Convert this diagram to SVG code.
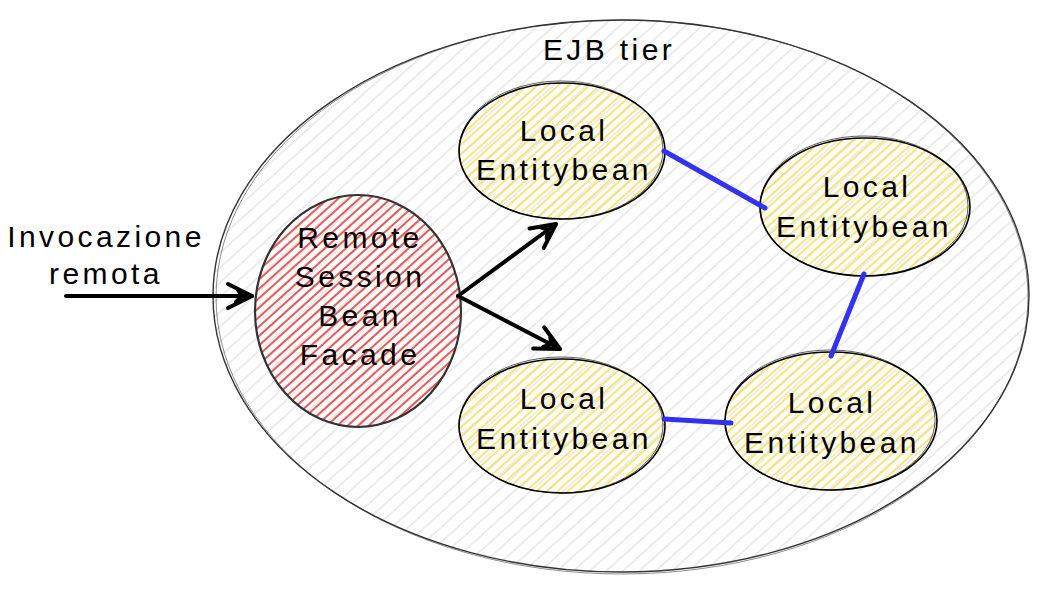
<svg xmlns="http://www.w3.org/2000/svg" width="1038" height="611" viewBox="0 0 1038 611">
<defs>
<pattern id="hGrey" width="11" height="11" patternUnits="userSpaceOnUse" patternTransform="rotate(-42)">
<line x1="0" y1="5" x2="11" y2="5" stroke="#d8d8d8" stroke-width="1"/>
</pattern>
<pattern id="hRed" width="7" height="7" patternUnits="userSpaceOnUse" patternTransform="rotate(-42)">
<line x1="0" y1="3" x2="7" y2="3" stroke="#e03131" stroke-width="1.6"/>
</pattern>
<pattern id="hYellow" width="7" height="7" patternUnits="userSpaceOnUse" patternTransform="rotate(-42)">
<line x1="0" y1="3" x2="7" y2="3" stroke="#f8dc4a" stroke-width="1.5"/>
</pattern>
<marker id="arrow" viewBox="-30 -16 34 32" refX="0" refY="0" markerWidth="34" markerHeight="32" markerUnits="userSpaceOnUse" orient="auto">
<path d="M-24,-12 L0,0 L-24,12 M-14,-6 L-10,0 L-16,6" fill="none" stroke="#000" stroke-width="4" stroke-linecap="round" stroke-linejoin="round"/>
</marker>
<style>
.lbl{font-family:"Liberation Sans","DejaVu Sans",sans-serif;font-size:30px;fill:#000;text-anchor:middle;letter-spacing:3.4px}
.edge{fill:none;stroke:#000;stroke-width:1.6}
.edge2{fill:none;stroke:#000;stroke-width:0.9;opacity:0.7}
.blue{stroke:#3333ee;stroke-width:5;stroke-linecap:round;fill:none}
.arr{stroke:#000;stroke-width:4;stroke-linecap:round;fill:none}
</style>
</defs>
<rect width="1038" height="611" fill="#fff"/>
<g id="ejb-tier">
<ellipse cx="621" cy="296" rx="408" ry="276" fill="url(#hGrey)"/>
<ellipse cx="621" cy="296" rx="408" ry="276" stroke="#333" stroke-width="1.4" fill="none"/>
<ellipse cx="622" cy="297" rx="406" ry="277" stroke="#333" stroke-width="0.8" fill="none" opacity="0.7"/>
<text class="lbl" x="609" y="60">EJB tier</text>
</g>
<g id="invocazione">
<text class="lbl" x="106" y="247">Invocazione</text>
<text class="lbl" x="106" y="284">remota</text>
</g>
<g id="facade">
<ellipse cx="358" cy="311" rx="103" ry="116" fill="url(#hRed)"/>
<ellipse cx="358" cy="311" rx="103" ry="116" fill="none" style="stroke:#333;stroke-width:2.2"/>
<text class="lbl" x="360" y="248">Remote</text>
<text class="lbl" x="360" y="287">Session</text>
<text class="lbl" x="360" y="326">Bean</text>
<text class="lbl" x="360" y="365">Facade</text>
</g>
<g id="entity1">
<ellipse cx="562" cy="151" rx="103" ry="68" fill="url(#hYellow)"/>
<ellipse cx="562" cy="151" rx="103" ry="68" class="edge"/>
<ellipse cx="561" cy="150" rx="102" ry="69" class="edge2"/>
<text class="lbl" x="564" y="141">Local</text>
<text class="lbl" x="564" y="180">Entitybean</text>
</g>
<g id="entity2">
<ellipse cx="865" cy="207" rx="105" ry="69" fill="url(#hYellow)"/>
<ellipse cx="865" cy="207" rx="105" ry="69" class="edge"/>
<ellipse cx="864" cy="206" rx="104" ry="70" class="edge2"/>
<text class="lbl" x="867" y="197">Local</text>
<text class="lbl" x="864" y="237">Entitybean</text>
</g>
<g id="entity3">
<ellipse cx="562" cy="426" rx="103" ry="67" fill="url(#hYellow)"/>
<ellipse cx="562" cy="426" rx="103" ry="67" class="edge"/>
<ellipse cx="561" cy="425" rx="102" ry="68" class="edge2"/>
<text class="lbl" x="564" y="409">Local</text>
<text class="lbl" x="564" y="449">Entitybean</text>
</g>
<g id="entity4">
<ellipse cx="831" cy="421" rx="106" ry="69" fill="url(#hYellow)"/>
<ellipse cx="831" cy="421" rx="106" ry="69" class="edge"/>
<ellipse cx="830" cy="420" rx="105" ry="70" class="edge2"/>
<text class="lbl" x="832" y="413">Local</text>
<text class="lbl" x="832" y="453">Entitybean</text>
</g>
<g id="connectors">
<line class="arr" x1="66" y1="296" x2="252" y2="296" marker-end="url(#arrow)"/>
<line class="arr" x1="458" y1="296" x2="556" y2="224" marker-end="url(#arrow)"/>
<line class="arr" x1="458" y1="296" x2="560" y2="349" marker-end="url(#arrow)"/>
<line class="blue" x1="664" y1="151" x2="765" y2="208"/>
<line class="blue" x1="864" y1="274" x2="831" y2="356"/>
<line class="blue" x1="664" y1="419" x2="731" y2="423"/>
</g>
</svg>
